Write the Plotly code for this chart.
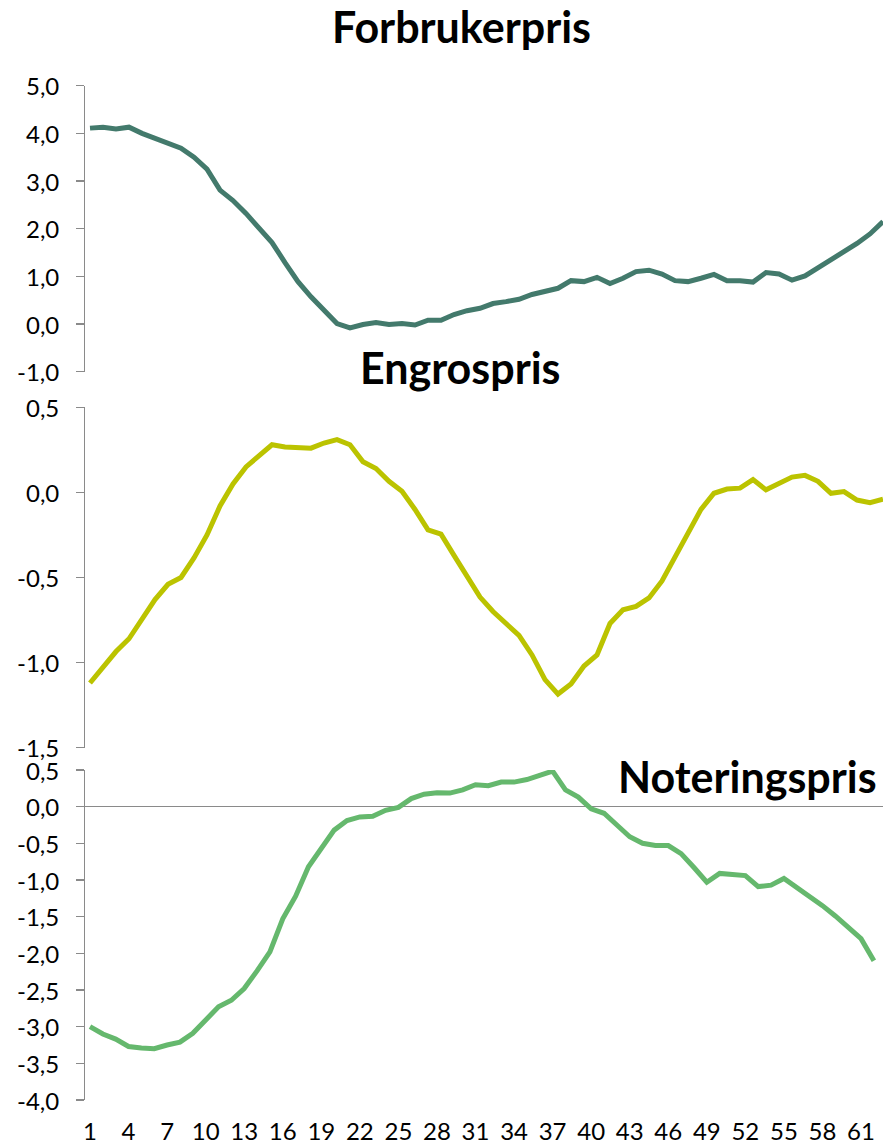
import plotly.graph_objects as go

# ---- data ----
periods = list(range(1, 63))

forbrukerpris = [4.11, 4.13, 4.09, 4.13, 4.00, 3.90, 3.79, 3.69, 3.50, 3.25,
                 2.81, 2.59, 2.32, 2.01, 1.71, 1.29, 0.89, 0.57, 0.29, 0.01,
                 -0.08, -0.01, 0.03, -0.01, 0.01, -0.02, 0.08, 0.08, 0.20, 0.28,
                 0.33, 0.43, 0.47, 0.52, 0.62, 0.69, 0.75, 0.91, 0.89, 0.98,
                 0.85, 0.96, 1.10, 1.13, 1.05, 0.91, 0.89, 0.96, 1.04, 0.91,
                 0.91, 0.88, 1.08, 1.05, 0.92, 1.01, 1.18, 1.36, 1.50, 1.69,
                 1.89, 2.15]

engrospris = [-1.12, -1.03, -0.935, -0.86, -0.75, -0.63, -0.54, -0.50, -0.385, -0.25,
              -0.08, 0.05, 0.15, 0.215, 0.28, 0.267, 0.265, 0.26, 0.29, 0.31,
              0.28, 0.18, 0.14, 0.065, 0.006, -0.10, -0.22, -0.245, -0.37, -0.49,
              -0.615, -0.70, -0.77, -0.84, -0.955, -1.10, -1.185, -1.125, -1.02, -0.955,
              -0.77, -0.69, -0.67, -0.62, -0.52, -0.375, -0.24, -0.10, -0.005, 0.02,
              0.025, 0.075, 0.015, 0.05, 0.09, 0.10, 0.065, -0.005, 0.005, -0.045,
              -0.06, -0.04]

noteringspris = [-3.00, -3.10, -3.17, -3.27, -3.29, -3.30, -3.25, -3.21, -3.09, -2.92,
                 -2.73, -2.64, -2.48, -2.24, -1.98, -1.53, -1.22, -0.82, -0.57, -0.32,
                 -0.19, -0.14, -0.13, -0.05, -0.01, 0.11, 0.17, 0.19, 0.185, 0.23,
                 0.30, 0.285, 0.335, 0.335, 0.37, 0.435, 0.485, 0.23, 0.13, -0.03,
                 -0.09, -0.25, -0.41, -0.50, -0.53, -0.53, -0.64, -0.83, -1.03, -0.91,
                 -0.92, -0.94, -1.09, -1.07, -0.98, -1.10, -1.23, -1.35, -1.49, -1.64,
                 -1.80, -2.10]

x_tick_vals = list(range(1, 62, 3))
x_tick_text = [str(v) for v in x_tick_vals]

y1_ticks = [-1.0, 0.0, 1.0, 2.0, 3.0, 4.0, 5.0]
y2_ticks = [-1.5, -1.0, -0.5, 0.0, 0.5]
y3_ticks = [-4.0, -3.5, -3.0, -2.5, -2.0, -1.5, -1.0, -0.5, 0.0, 0.5]

titles = ["Forbrukerpris", "Engrospris", "Noteringspris"]
colors = ["#437a6c", "#bbc300", "#65b86d"]

# the page body margin is removed below, so the figure fills the window
OFF = 0
W, H = 883, 1145
FONT = "Lato"
AXIS_GREY = "#8a8a8a"


def fmt(v):
    return f"{v:.1f}".replace(".", ",")


def fx(px):
    return (px - OFF) / W


def fy(py):
    return 1 - (py - OFF) / H


def ydom(top, bottom):
    return [fy(bottom), fy(top)]


xd = [fx(85), 1.0]

fig = go.Figure()
fig.add_trace(go.Scatter(x=periods, y=forbrukerpris, mode="lines", xaxis="x", yaxis="y",
                         line=dict(color=colors[0], width=5), showlegend=False))
fig.add_trace(go.Scatter(x=periods, y=engrospris, mode="lines", xaxis="x2", yaxis="y2",
                         line=dict(color=colors[1], width=5), showlegend=False))
fig.add_trace(go.Scatter(x=periods, y=noteringspris, mode="lines", xaxis="x3", yaxis="y3",
                         line=dict(color=colors[2], width=5), showlegend=False))

yax_common = dict(showline=True, linecolor=AXIS_GREY, linewidth=1.5,
                  ticks="outside", ticklen=8, tickcolor=AXIS_GREY, tickwidth=1.5,
                  showgrid=False, zeroline=False, automargin=False,
                  showticklabels=False, tickmode="array")

fig.update_layout(
    width=W, height=H,
    margin=dict(l=0, r=0, t=0, b=0, autoexpand=False),
    paper_bgcolor="white", plot_bgcolor="white",
    xaxis=dict(domain=xd, range=[0.615, 62.0], visible=False, anchor="y", automargin=False),
    xaxis2=dict(domain=xd, range=[0.615, 62.0], visible=False, anchor="y2", automargin=False),
    xaxis3=dict(domain=xd, range=[0.611, 62.71], anchor="y3", automargin=False,
                tickmode="array", tickvals=x_tick_vals, ticktext=x_tick_text,
                showline=False, ticks="", showgrid=False, zeroline=False,
                tickfont=dict(family=FONT, size=24, color="#000000"),
                ticklabelstandoff=15),
    yaxis=dict(domain=ydom(85.7, 371.7), range=[-1, 5], anchor="x", tickvals=y1_ticks, **yax_common),
    yaxis2=dict(domain=ydom(407.3, 747.7), range=[-1.5, 0.5], anchor="x2", tickvals=y2_ticks, **yax_common),
    yaxis3=dict(domain=ydom(770, 1100), range=[-4, 0.5], anchor="x3", tickvals=y3_ticks,
                **{**yax_common, "zeroline": True, "zerolinecolor": AXIS_GREY, "zerolinewidth": 1.5}),
)

# y tick labels placed right-aligned at a fixed pixel column, at their data values
for yref, ticks in (("y", y1_ticks), ("y2", y2_ticks), ("y3", y3_ticks)):
    for v in ticks:
        fig.add_annotation(text=fmt(v), x=fx(61), y=v, xref="paper", yref=yref,
                           xanchor="right", yanchor="middle", showarrow=False,
                           font=dict(family=FONT, size=24, color="#000000"))

title_pos = [(461, 27), (460, 367), (747, 776)]
for t, (px, py) in zip(titles, title_pos):
    fig.add_annotation(text=f"<b>{t}</b>", x=fx(px), y=fy(py), xref="paper", yref="paper",
                       xanchor="center", yanchor="middle", showarrow=False,
                       font=dict(family=FONT, size=43, color="#000000"))

fig.write_html("out.html",
               config={"displayModeBar": False, "staticPlot": True},
               post_script="document.body.style.margin='0';document.body.style.overflow='hidden';")
